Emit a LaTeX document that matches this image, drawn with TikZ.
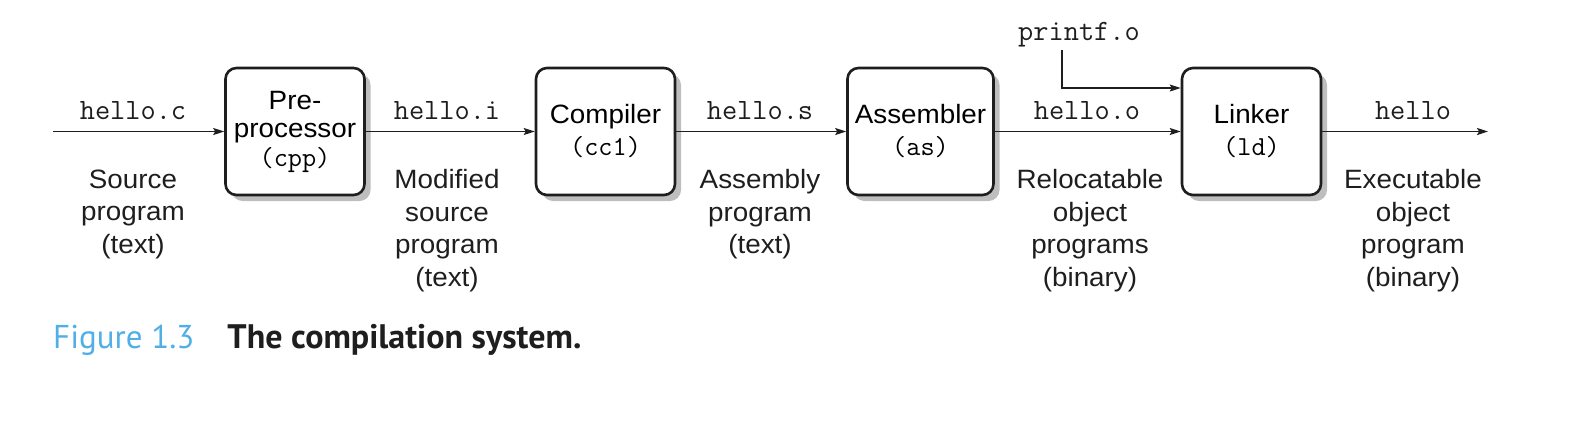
\documentclass[tikz,border=0pt]{standalone}
\usepackage{fontspec}
\setmainfont{Liberation Sans}[FakeStretch=1.05]
\newfontfamily\capfont{PT Sans}
\usetikzlibrary{arrows.meta,shadows}
\definecolor{figblue}{RGB}{80,175,230}
\definecolor{shadowgray}{RGB}{190,190,190}
\definecolor{ink}{RGB}{30,30,30}
\begin{document}
\begin{tikzpicture}[x=1pt,y=-1pt,
  stage/.style={draw=ink, line width=2.6pt, rounded corners=11pt, fill=white,
    minimum width=139pt, minimum height=127pt, align=center, inner sep=0pt,
    font=\fontsize{26.5}{32}\selectfont,
    drop shadow={shadow xshift=6pt, shadow yshift=-6pt, fill=shadowgray, opacity=1}},
  conn/.style={draw=ink, line width=1.6pt, -{Stealth[length=11pt,width=7pt,inset=2pt]}},
  fname/.style={anchor=base, inner sep=0pt, text=ink, font=\fontsize{29.5}{32}\ttfamily},
  desc/.style={anchor=north, inner sep=0pt, align=center, text=ink, font=\fontsize{26.5}{32.5}\selectfont},
]
\useasboundingbox (0,0) rectangle (1594,432);
\newcommand\boxtt[1]{{\fontsize{27.5}{32}\ttfamily #1}}

% stages
\node[stage, font=\fontsize{26.5}{28.5}\selectfont] (pre) at (295,131.5) {Pre-\\processor\\\boxtt{(cpp)}};
\node[stage] (cc) at (605.5,131.5) {Compiler\\\boxtt{(cc1)}};
\node[stage, minimum width=146pt] (as) at (920.5,131.5) {Assembler\\\boxtt{(as)}};
\node[stage] (ld) at (1251.5,131.5) {Linker\\\boxtt{(ld)}};

% free ends
\coordinate (in) at (53,131.5);
\coordinate (out) at (1488,131.5);
\node[fname] (pf) at (1079,40) {printf.o};
\coordinate (pfs) at (1062,50);

% connectors
\draw[conn] (in) -- (pre);
\draw[conn] (pre) -- (cc);
\draw[conn] (cc) -- (as);
\draw[conn] (as) -- (ld);
\draw[conn] (ld) -- (out);
\draw[conn] (pfs) |- ([yshift=43.5pt]ld.west);

% file names
\node[fname] (fc) at (133,119) {hello.c};
\node[fname] (fi) at (447,119) {hello.i};
\node[fname] (fs) at (760,119) {hello.s};
\node[fname] (fo) at (1087,119) {hello.o};
\node[fname] (fe) at (1413,119) {hello};

% descriptions
\node[desc] (d1) at (133,169.5) {Source\\program\\(text)};
\node[desc] (d2) at (447,169.5) {Modified\\source\\program\\(text)};
\node[desc] (d3) at (760,169.5) {Assembly\\program\\(text)};
\node[desc] (d4) at (1090,169.5) {Relocatable\\object\\programs\\(binary)};
\node[desc] (d5) at (1413,169.5) {Executable\\object\\program\\(binary)};

% caption
\node[anchor=base west, inner sep=0pt, font=\capfont] (cap) at (53,348)
  {\textcolor{figblue}{\fontsize{33}{36}\selectfont Figure 1.3}\hspace{33pt}\textcolor{ink}{\fontsize{34}{36}\selectfont\bfseries The compilation system.}};
\end{tikzpicture}
\end{document}
